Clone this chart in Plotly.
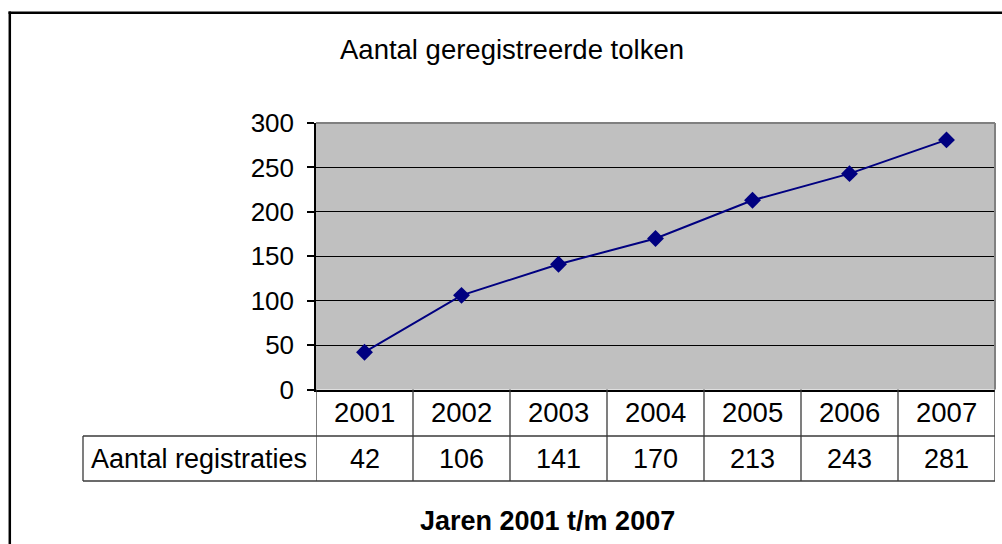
import plotly.graph_objects as go

years = ["2001", "2002", "2003", "2004", "2005", "2006", "2007"]
registraties = [42, 106, 141, 170, 213, 243, 281]
y_ticks = [0, 50, 100, 150, 200, 250, 300]
title_text = "Aantal geregistreerde tolken"
row_label = "Aantal registraties"
x_title = "Jaren 2001 t/m 2007"

W, H = 1002, 544
# plot area in pixels
PL, PR, PT, PB = 316, 995, 123, 389.5
ROW1_B, ROW2_B, LABEL_L = 436, 481, 83

def px(x):
    return x / W

def py(y):
    return 1 - y / H

FONT = "Arial, 'Liberation Sans', sans-serif"
n = len(years)
xs = [i + 0.5 for i in range(n)]

fig = go.Figure()
fig.add_trace(go.Scatter(
    x=xs, y=registraties, mode="lines+markers",
    line=dict(color="#000080", width=2),
    marker=dict(symbol="diamond", size=13, color="#000080"),
    hoverinfo="skip", showlegend=False,
))

shapes = []
TBL = "#3a3a3a"
# table vertical lines (cell boundaries)
for i in range(n + 1):
    shapes.append(dict(type="line", xref="x", yref="paper", x0=i, x1=i,
                       y0=py(PB), y1=py(ROW2_B), line=dict(color=TBL, width=1.3)))
# table horizontal lines
for yy in (ROW1_B, ROW2_B):
    shapes.append(dict(type="line", xref="paper", yref="paper", x0=px(LABEL_L), x1=px(PR),
                       y0=py(yy), y1=py(yy), line=dict(color=TBL, width=1.3)))
shapes.append(dict(type="line", xref="paper", yref="paper", x0=px(LABEL_L), x1=px(LABEL_L),
                   y0=py(ROW1_B), y1=py(ROW2_B), line=dict(color=TBL, width=1.3)))
# plot-area top and right borders (gray)
shapes.append(dict(type="line", xref="paper", yref="paper", x0=px(PL), x1=px(PR),
                   y0=py(PT), y1=py(PT), line=dict(color="#808080", width=2)))
shapes.append(dict(type="line", xref="paper", yref="paper", x0=px(PR), x1=px(PR),
                   y0=py(PT), y1=py(PB), line=dict(color="#808080", width=2)))
# outer chart border (left and top visible)
shapes.append(dict(type="line", xref="paper", yref="paper", x0=px(9.8), x1=px(9.8),
                   y0=py(11.5), y1=0, line=dict(color="black", width=2.5)))
shapes.append(dict(type="line", xref="paper", yref="paper", x0=px(8.5), x1=1,
                   y0=py(12.8), y1=py(12.8), line=dict(color="black", width=2.5)))

annotations = []
for i, yr in enumerate(years):
    annotations.append(dict(x=xs[i], y=py((PB + ROW1_B) / 2), xref="x", yref="paper",
                            text=yr, showarrow=False, xanchor="center", yanchor="middle",
                            font=dict(family=FONT, size=27.5, color="black")))
    annotations.append(dict(x=xs[i], y=py((ROW1_B + ROW2_B) / 2), xref="x", yref="paper",
                            text=str(registraties[i]), showarrow=False, xanchor="center",
                            yanchor="middle", font=dict(family=FONT, size=27, color="black")))
annotations.append(dict(x=px(89), y=py((ROW1_B + ROW2_B) / 2), xref="paper", yref="paper",
                        text=row_label, showarrow=False, xanchor="left", yanchor="middle",
                        font=dict(family=FONT, size=27, color="black")))
annotations.append(dict(x=px(512), y=py(49), xref="paper", yref="paper",
                        text=title_text, showarrow=False, xanchor="center", yanchor="middle",
                        font=dict(family=FONT, size=27.5, color="black")))
annotations.append(dict(x=px(547.5), y=py(521), xref="paper", yref="paper",
                        text="<b>" + x_title + "</b>", showarrow=False, xanchor="center",
                        yanchor="middle", font=dict(family=FONT, size=27, color="black")))

fig.update_layout(
    template="none",
    width=W, height=H,
    autosize=False,
    margin=dict(l=0, r=0, t=0, b=0, pad=0, autoexpand=False),
    paper_bgcolor="white",
    plot_bgcolor="#C0C0C0",
    showlegend=False,
    shapes=shapes,
    annotations=annotations,
    xaxis=dict(domain=[px(PL), px(PR)], range=[0, n], showgrid=False, zeroline=False,
               showticklabels=False, ticks="", showline=True, linecolor="black",
               linewidth=1.5, fixedrange=True, automargin=False),
    yaxis=dict(domain=[py(PB), py(PT)], range=[0, 300], tickvals=y_ticks,
               ticktext=[str(v) for v in y_ticks],
               showgrid=True, gridcolor="black", gridwidth=1, zeroline=False,
               showline=True, linecolor="black", linewidth=1.5,
               ticks="outside", ticklen=7, tickcolor="black", tickwidth=1.5,
               ticklabelstandoff=8, automargin=False,
               tickfont=dict(family=FONT, size=26, color="black"), fixedrange=True),
)

fig.write_html(
    "out.html",
    config={"responsive": False, "displayModeBar": False},
    post_script="document.body.style.margin='0';document.body.style.overflow='hidden';",
)
